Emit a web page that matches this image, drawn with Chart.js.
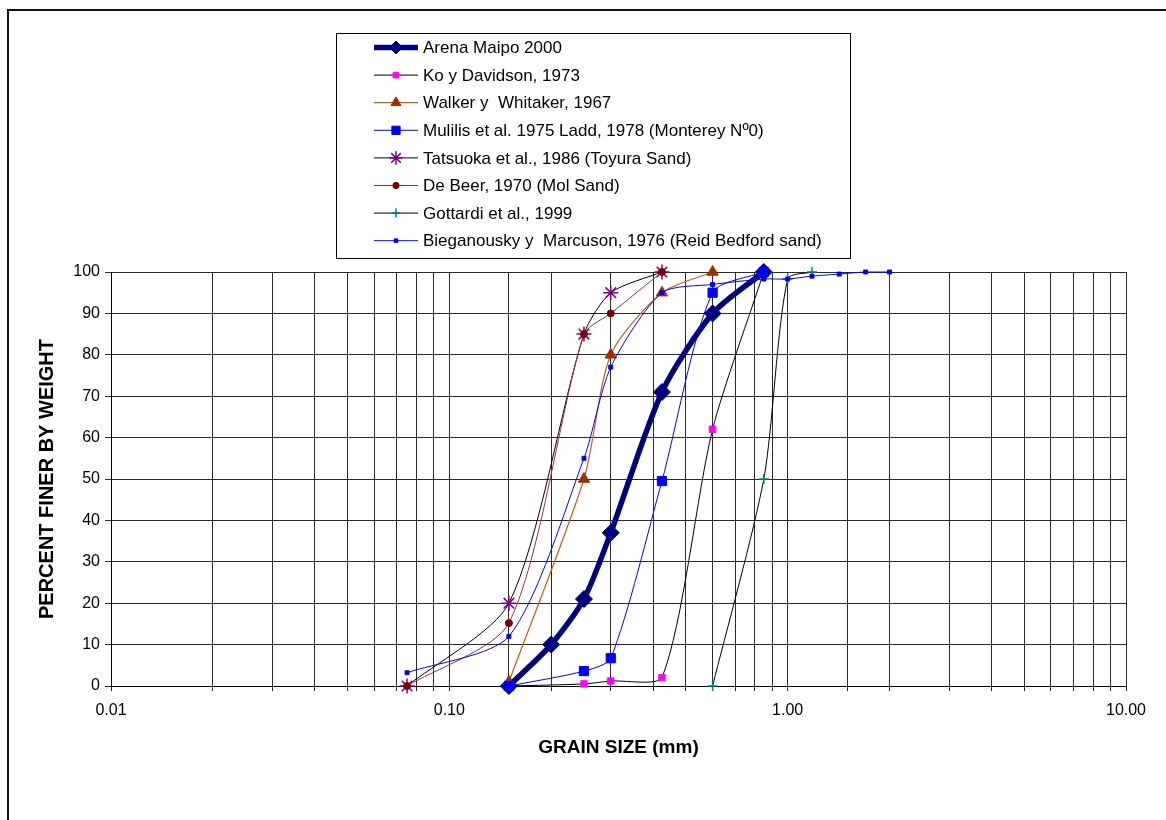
<!DOCTYPE html>
<html>
<head>
<meta charset="utf-8">
<title>Grain size distribution</title>
<script src="https://cdn.jsdelivr.net/npm/chart.js@4.4.1/dist/chart.umd.min.js"></script>
<style>
  html, body { margin: 0; padding: 0; background: #fff; }
  canvas { display: block; }
</style>
</head>
<body>
<canvas id="grainChart" width="1166" height="820"></canvas>
<script>
// grain size (mm) and percent passing for each sample
const maipoSize = [0.15, 0.2, 0.25, 0.3, 0.425, 0.6, 0.85];
const maipoPass = [0, 10, 21, 37, 71, 90, 100];

const koSize = [0.15, 0.25, 0.3, 0.425, 0.6, 0.85];
const koPass = [0, 0.5, 1.2, 2, 62, 100];

const walkerSize = [0.15, 0.25, 0.3, 0.425, 0.6];
const walkerPass = [1, 50, 80, 95, 100];

const mulilisSize = [0.15, 0.25, 0.3, 0.425, 0.6, 0.85];
const mulilisPass = [0, 3.6, 6.7, 49.5, 95, 100];

const tatsuokaSize = [0.075, 0.15, 0.25, 0.3, 0.425];
const tatsuokaPass = [0, 20, 85, 95, 100];

const deBeerSize = [0.075, 0.15, 0.25, 0.3, 0.425];
const deBeerPass = [0, 15.2, 85, 90, 100];

const gottardiSize = [0.6, 0.85, 1.0, 1.18];
const gottardiPass = [0, 50, 98.3, 100];

const biegSize = [0.075, 0.15, 0.25, 0.3, 0.425, 0.6, 0.85, 1.0, 1.18, 1.42, 1.7, 2.0];
const biegPass = [3.2, 12, 55, 77, 95, 97, 98.3, 98.3, 99, 99.5, 100, 100];

const seriesNames = [
    'Arena Maipo 2000',
    'Ko y Davidson, 1973',
    'Walker y  Whitaker, 1967',
    'Mulilis et al. 1975 Ladd, 1978 (Monterey Nº0)',
    'Tatsuoka et al., 1986 (Toyura Sand)',
    'De Beer, 1970 (Mol Sand)',
    'Gottardi et al., 1999',
    'Bieganousky y  Marcuson, 1976 (Reid Bedford sand)'
];

const sizeTicks = [0.01, 0.1, 1, 10];

const FONT = '"Liberation Sans", Arial, sans-serif';

function toPoints(xs, ys) {
    return xs.map((x, i) => ({ x: x, y: ys[i] }));
}

function series(idx, xs, ys, style) {
    return Object.assign({
        label: seriesNames[idx],
        data: toPoints(xs, ys),
        borderWidth: 1,
        tension: 0.25,
        clip: false,
        order: 7 - idx,
        pointBorderWidth: 1
    }, style);
}

const datasets = [
    series(0, maipoSize, maipoPass, {
        borderColor: '#000080', borderWidth: 5.5,
        pointStyle: 'rectRot', pointRadius: 8.5,
        pointBackgroundColor: '#000080', pointBorderColor: '#000080'
    }),
    series(1, koSize, koPass, {
        borderColor: '#000000',
        pointStyle: 'rect', pointRadius: 4.5,
        pointBackgroundColor: '#FF00FF', pointBorderColor: '#FF00FF'
    }),
    series(2, walkerSize, walkerPass, {
        borderColor: '#C0601E', borderWidth: 1.2,
        pointStyle: 'triangle', pointRadius: 6.5,
        pointBackgroundColor: '#993300', pointBorderColor: '#993300'
    }),
    series(3, mulilisSize, mulilisPass, {
        borderColor: '#0000FF',
        pointStyle: 'rect', pointRadius: 6.5,
        pointBackgroundColor: '#0000FF', pointBorderColor: '#0000FF'
    }),
    series(4, tatsuokaSize, tatsuokaPass, {
        borderColor: '#000000',
        pointStyle: 'star', pointRadius: 7.5, pointBorderWidth: 1.5,
        pointBackgroundColor: '#800080', pointBorderColor: '#800080'
    }),
    series(5, deBeerSize, deBeerPass, {
        borderColor: '#993333',
        pointStyle: 'circle', pointRadius: 3.5,
        pointBackgroundColor: '#800000', pointBorderColor: '#800000'
    }),
    series(6, gottardiSize, gottardiPass, {
        borderColor: '#000000',
        pointStyle: 'cross', pointRadius: 5, pointBorderWidth: 1.5,
        pointBackgroundColor: '#008080', pointBorderColor: '#008080'
    }),
    series(7, biegSize, biegPass, {
        borderColor: '#0000FF',
        pointStyle: 'rect', pointRadius: 2.8,
        pointBackgroundColor: '#0000FF', pointBorderColor: '#0000FF'
    })
];

// outer frame of the chart object (only left and top edges are visible)
const framePlugin = {
    id: 'frame',
    beforeDraw(chart) {
        const ctx = chart.ctx;
        ctx.save();
        ctx.strokeStyle = '#111';
        ctx.lineWidth = 2;
        ctx.beginPath();
        ctx.moveTo(8, 820);
        ctx.lineTo(8, 10);
        ctx.lineTo(1166, 10);
        ctx.stroke();
        ctx.restore();
    }
};

// boxed legend above the plot: line sample with marker, then the name
const boxLegendPlugin = {
    id: 'boxLegend',
    afterDraw(chart) {
        const ctx = chart.ctx;
        const box = { left: 336.5, top: 33.5, width: 514, height: 225 };
        ctx.save();
        ctx.fillStyle = '#fff';
        ctx.fillRect(box.left, box.top, box.width, box.height);
        ctx.strokeStyle = '#000';
        ctx.lineWidth = 1;
        ctx.strokeRect(box.left, box.top, box.width, box.height);

        chart.data.datasets.forEach((ds, i) => {
            const y = 47.5 + i * 27.6;
            ctx.strokeStyle = ds.borderColor;
            ctx.lineWidth = ds.borderWidth;
            ctx.beginPath();
            ctx.moveTo(374, y);
            ctx.lineTo(418, y);
            ctx.stroke();

            ctx.fillStyle = ds.pointBackgroundColor;
            ctx.strokeStyle = ds.pointBorderColor;
            ctx.lineWidth = ds.pointBorderWidth;
            Chart.helpers.drawPoint(ctx, {
                pointStyle: ds.pointStyle,
                radius: i === 0 ? 6.5 : ds.pointRadius * 0.9,
                rotation: 0,
                borderWidth: ds.pointBorderWidth
            }, 396, y);

            ctx.fillStyle = '#000';
            ctx.font = '17px ' + FONT;
            ctx.textBaseline = 'middle';
            ctx.textAlign = 'left';
            ctx.fillText(ds.label, 423, y + 1);
        });
        ctx.restore();
    }
};

new Chart(document.getElementById('grainChart').getContext('2d'), {
    type: 'line',
    data: { datasets: datasets },
    plugins: [framePlugin, boxLegendPlugin],
    options: {
        responsive: false,
        animation: false,
        layout: { padding: { left: 28, right: 40, top: 272, bottom: 58 } },
        plugins: { legend: { display: false }, tooltip: { enabled: false } },
        scales: {
            x: {
                type: 'logarithmic',
                min: 0.01,
                max: 10,
                afterFit(scale) { scale.height = 76; },
                grid: { color: '#2a2a2a', lineWidth: 1, tickLength: 5 },
                border: { color: '#000', width: 1 },
                ticks: {
                    autoSkip: false,
                    maxRotation: 0,
                    padding: 10,
                    color: '#000',
                    font: { family: FONT, size: 16 },
                    callback(value) {
                        const hit = sizeTicks.find(t => Math.abs(t - value) < t * 1e-6);
                        return hit !== undefined ? hit.toFixed(2) : '';
                    }
                },
                title: {
                    display: true,
                    text: 'GRAIN SIZE (mm)',
                    color: '#000',
                    font: { family: FONT, size: 19, weight: 'bold' },
                    padding: { top: 0, bottom: 3 }
                }
            },
            y: {
                min: 0,
                max: 100,
                afterFit(scale) { scale.width = 83; },
                grid: { color: '#2a2a2a', lineWidth: 1, tickLength: 6 },
                border: { color: '#000', width: 1 },
                ticks: {
                    stepSize: 10,
                    padding: 5,
                    color: '#000',
                    font: { family: FONT, size: 16 }
                },
                title: {
                    display: true,
                    text: 'PERCENT FINER BY WEIGHT',
                    color: '#000',
                    font: { family: FONT, size: 20, weight: 'bold' },
                    padding: { top: 7, bottom: 0 }
                }
            }
        }
    }
});
</script>
</body>
</html>
